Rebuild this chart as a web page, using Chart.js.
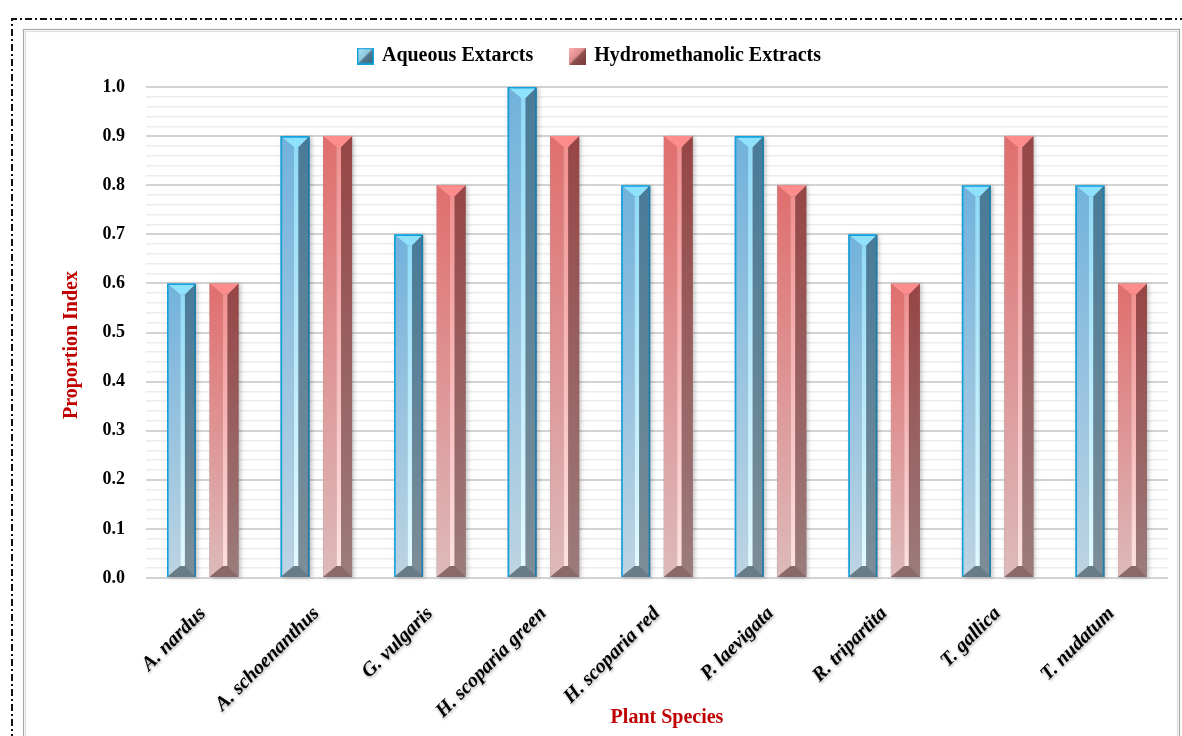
<!DOCTYPE html>
<html>
<head>
<meta charset="utf-8">
<script src="https://cdn.jsdelivr.net/npm/chart.js@4.4.1/dist/chart.umd.min.js"></script>
<style>
  html, body { margin: 0; padding: 0; background: #fff; }
  canvas { display: block; }
</style>
</head>
<body>
<canvas id="chart" width="1182" height="736"></canvas>
<script>
const species = ['A. nardus', 'A. schoenanthus', 'G. vulgaris', 'H. scoparia green', 'H. scoparia red',
  'P. laevigata', 'R. tripartita', 'T. gallica', 'T. nudatum'];
const aqueous = [0.6, 0.9, 0.7, 1.0, 0.8, 0.9, 0.7, 0.8, 0.8];
const hydromethanolic = [0.6, 0.9, 0.8, 0.9, 0.9, 0.8, 0.6, 0.9, 0.6];
const seriesNames = ['Aqueous Extarcts', 'Hydromethanolic Extracts'];

const SERIF = '"Liberation Serif", "Times New Roman", serif';
const TITLE_RED = '#c00000';

// face colours of the prism bars: [top, bottom] gradients per face
const palettes = [
  {
    left: ['#72b2dc', '#bdd4e3'], ridge: ['#8edaf8', '#e4faff'], right: ['#487b98', '#7d8d97'],
    cap: '#8fe2fd', foot: '#687c87', edge: '#12a2dc', edgeDark: '#1a7fae'
  },
  {
    left: ['#e06e6e', '#ddbaba'], ridge: ['#f28e8e', '#fde3e3'], right: ['#974545', '#9b7c7c'],
    cap: '#ff8c8c', foot: '#896969', edge: null, edgeDark: null
  }
];

function poly(ctx, pts, fill) {
  ctx.beginPath();
  ctx.moveTo(pts[0][0], pts[0][1]);
  for (let i = 1; i < pts.length; i++) ctx.lineTo(pts[i][0], pts[i][1]);
  ctx.closePath();
  ctx.fillStyle = fill;
  ctx.fill();
}

function drawPrism(ctx, x, top, base, w, pal) {
  const l = x - w / 2, r = x + w / 2;
  const h = base - top;
  const d = Math.min(w * 0.38, h / 2);
  const s1 = l + w * 0.46, s2 = l + w * 0.62;
  const grad = (c) => {
    const g = ctx.createLinearGradient(0, top, 0, base);
    g.addColorStop(0, c[0]);
    g.addColorStop(1, c[1]);
    return g;
  };

  ctx.save();
  // soft shadow behind the bar
  ctx.shadowColor = 'rgba(0,0,0,0.22)';
  ctx.shadowBlur = 4;
  ctx.shadowOffsetX = 2;
  ctx.shadowOffsetY = 1;
  poly(ctx, [[l, top], [r, top], [r, base], [l, base]], pal.right[1]);
  ctx.restore();

  poly(ctx, [[l, top], [s1, top + d], [s1, base - d], [l, base]], grad(pal.left));
  poly(ctx, [[s1, top + d], [s2, top + d], [s2, base - d], [s1, base - d]], grad(pal.ridge));
  poly(ctx, [[s2, top + d], [r, top], [r, base], [s2, base - d]], grad(pal.right));
  poly(ctx, [[l, top], [r, top], [s2, top + d], [s1, top + d]], pal.cap);
  poly(ctx, [[l, base], [s1, base - d], [s2, base - d], [r, base]], pal.foot);

  if (pal.edge) {
    ctx.save();
    ctx.lineWidth = 1.6;
    ctx.strokeStyle = pal.edge;
    ctx.beginPath();
    ctx.moveTo(l + 0.8, base);
    ctx.lineTo(l + 0.8, top + 0.8);
    ctx.lineTo(r - 0.8, top + 0.8);
    ctx.stroke();
    ctx.strokeStyle = pal.edgeDark;
    ctx.beginPath();
    ctx.moveTo(r - 0.8, top + 0.8);
    ctx.lineTo(r - 0.8, base);
    ctx.stroke();
    ctx.restore();
  }
}

// small bevelled squares used as legend markers
function legendIcon(pal) {
  const c = document.createElement('canvas');
  c.width = 17;
  c.height = 17;
  const g = c.getContext('2d');
  poly(g, [[0, 0], [17, 0], [0, 17]], pal.cap);
  poly(g, [[17, 0], [17, 17], [0, 17]], pal.right[0]);
  const sh = g.createLinearGradient(0, 0, 17, 17);
  sh.addColorStop(0, 'rgba(255,255,255,0.35)');
  sh.addColorStop(1, 'rgba(0,0,0,0.15)');
  g.fillStyle = sh;
  g.fillRect(0, 0, 17, 17);
  if (pal.edge) {
    g.strokeStyle = pal.edge;
    g.lineWidth = 1.5;
    g.strokeRect(0.75, 0.75, 15.5, 15.5);
  }
  return c;
}
const legendIcons = palettes.map(legendIcon);

const isMajor = (v) => Math.abs(v * 10 - Math.round(v * 10)) < 1e-6;

const framePlugin = {
  id: 'frame',
  beforeDraw(chart) {
    const ctx = chart.ctx;
    ctx.save();
    ctx.fillStyle = '#fff';
    ctx.fillRect(0, 0, chart.width, chart.height);
    // outer dash-dot border
    ctx.strokeStyle = '#111';
    ctx.lineWidth = 2;
    ctx.setLineDash([7, 3, 2, 3]);
    ctx.beginPath();
    ctx.moveTo(12, chart.height + 5);
    ctx.lineTo(12, 19);
    ctx.lineTo(chart.width + 5, 19);
    ctx.stroke();
    ctx.setLineDash([]);
    // inner grey panel frame
    ctx.strokeStyle = '#a9a9a9';
    ctx.lineWidth = 1.2;
    ctx.strokeRect(23.5, 29.5, 1156, 800);
    ctx.strokeStyle = '#dedede';
    ctx.strokeRect(25.5, 31.5, 1152, 800);
    ctx.restore();

    // category labels get a soft drop shadow
    const xs = chart.scales.x;
    if (xs && !xs._shadowPatched) {
      const drawLabels = xs.drawLabels;
      xs.drawLabels = function (area) {
        const c = this.ctx;
        c.save();
        c.shadowColor = 'rgba(0,0,0,0.35)';
        c.shadowBlur = 3;
        c.shadowOffsetX = 1;
        c.shadowOffsetY = 1.5;
        drawLabels.call(this, area);
        c.restore();
      };
      xs._shadowPatched = true;
    }
  }
};

const legendGap = {
  id: 'legendGap',
  beforeLayout(chart) {
    const lg = chart.legend;
    if (lg && !lg._gapPatched) {
      const fit = lg.fit;
      lg.fit = function () {
        fit.call(this);
        this.height += 11;
      };
      lg._gapPatched = true;
    }
  }
};

const prismBars = {
  id: 'prismBars',
  afterDatasetsDraw(chart) {
    const ctx = chart.ctx;
    chart.data.datasets.forEach((ds, di) => {
      const meta = chart.getDatasetMeta(di);
      if (meta.hidden) return;
      meta.data.forEach((bar) => {
        const p = bar.getProps(['x', 'y', 'base', 'width'], true);
        drawPrism(ctx, p.x, p.y, p.base, p.width, palettes[di]);
      });
    });
  }
};

new Chart(document.getElementById('chart'), {
  type: 'bar',
  data: {
    labels: species,
    datasets: [
      { label: seriesNames[0], data: aqueous, backgroundColor: 'rgba(0,0,0,0)', borderWidth: 0 },
      { label: seriesNames[1], data: hydromethanolic, backgroundColor: 'rgba(0,0,0,0)', borderWidth: 0 }
    ]
  },
  options: {
    responsive: false,
    animation: false,
    categoryPercentage: 0.75,
    barPercentage: 0.68,
    layout: { padding: { left: 12, right: 14, top: 8, bottom: 0 } },
    plugins: {
      tooltip: { enabled: false },
      legend: {
        position: 'top',
        labels: {
          usePointStyle: true,
          pointStyleWidth: 13,
          padding: 38,
          color: '#000',
          font: { family: SERIF, size: 20, weight: 'bold' },
          generateLabels(chart) {
            return Chart.defaults.plugins.legend.labels.generateLabels(chart).map((item, i) => {
              item.pointStyle = legendIcons[i];
              return item;
            });
          }
        }
      }
    },
    scales: {
      x: {
        afterFit(scale) { scale.height = 158; },
        grid: { display: false, drawTicks: false },
        border: { display: false },
        ticks: {
          autoSkip: false,
          minRotation: 45,
          maxRotation: 45,
          padding: 24,
          color: '#000',
          font: { family: SERIF, size: 20, weight: 'bold', style: 'italic' }
        },
        title: {
          display: true,
          // leading spaces nudge the title a little right of the axis centre
          text: '    Plant Species',
          color: TITLE_RED,
          font: { family: SERIF, size: 20, weight: 'bold' },
          padding: { top: 0, bottom: 6 }
        }
      },
      y: {
        min: 0,
        max: 1,
        afterFit(scale) { scale.width = 134; },
        border: { display: false },
        grid: {
          drawTicks: false,
          color: (c) => isMajor(c.tick.value) ? '#d3d3d3' : '#ececec',
          lineWidth: (c) => isMajor(c.tick.value) ? 2 : 1.5
        },
        ticks: {
          stepSize: 0.02,
          autoSkip: false,
          maxTicksLimit: 100,
          padding: 21,
          color: '#000',
          font: { family: SERIF, size: 18, weight: 'bold' },
          callback: (v) => isMajor(v) ? Number(v).toFixed(1) : ''
        },
        title: {
          display: true,
          // trailing spaces push the rotated title slightly lower
          text: 'Proportion Index     ',
          color: TITLE_RED,
          font: { family: SERIF, size: 20, weight: 'bold' },
          padding: { top: 48, bottom: 0 }
        }
      }
    }
  },
  plugins: [framePlugin, legendGap, prismBars]
});
</script>
</body>
</html>
